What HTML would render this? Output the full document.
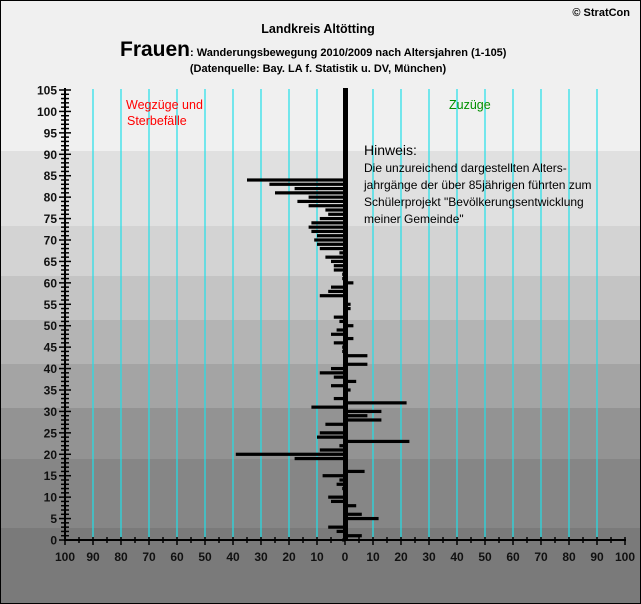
<!DOCTYPE html>
<html><head><meta charset="utf-8"><style>
html,body{margin:0;padding:0;background:#f0f0f0}
svg{display:block;font-family:"Liberation Sans",Arial,sans-serif}
</style></head><body>
<svg id="s" width="641" height="604" xmlns="http://www.w3.org/2000/svg">
<rect x="0" y="0" width="641" height="604" fill="#f0f0f0"/>
<rect x="0" y="151" width="641" height="75" fill="#e0e0e0"/>
<rect x="0" y="226" width="641" height="50" fill="#d3d3d3"/>
<rect x="0" y="276" width="641" height="44" fill="#c4c4c4"/>
<rect x="0" y="320" width="641" height="44" fill="#b4b4b4"/>
<rect x="0" y="364" width="641" height="44" fill="#a4a4a4"/>
<rect x="0" y="408" width="641" height="51" fill="#939393"/>
<rect x="0" y="459" width="641" height="69" fill="#868686"/>
<rect x="0" y="528" width="641" height="76" fill="#7a7a7a"/>
<g id="grid"></g>
<g id="bars"></g>
<rect x="343" y="88" width="5" height="453" fill="#000"/>
<g id="axes" stroke="#000" stroke-width="2"></g>
<g id="labels" font-size="12" font-weight="bold" fill="#111"></g>
<text x="630" y="16" font-size="11" font-weight="bold" text-anchor="end">© StratCon</text>
<text x="318" y="33" font-size="12.5" font-weight="bold" text-anchor="middle">Landkreis Altötting</text>
<text x="120" y="56" font-weight="bold"><tspan font-size="21">Frauen</tspan><tspan font-size="11">: Wanderungsbewegung 2010/2009 nach Altersjahren (1-105)</tspan></text>
<text x="318" y="72" font-size="11" font-weight="bold" text-anchor="middle">(Datenquelle: Bay. LA f. Statistik u. DV, München)</text>
<text x="126" y="109" font-size="12.5" fill="#ff0000">Wegzüge und</text>
<text x="127" y="125" font-size="12.5" fill="#ff0000">Sterbefälle</text>
<text x="449" y="109" font-size="12.5" fill="#009000">Zuzüge</text>
<text x="364" y="155" font-size="14" fill="#000">Hinweis:</text>
<g font-size="12" fill="#000">
<text x="364" y="172">Die unzureichend dargestellten Alters-</text>
<text x="364" y="189">jahrgänge der über 85jährigen führten zum</text>
<text x="364" y="206">Schülerprojekt "Bevölkerungsentwicklung</text>
<text x="364" y="223">meiner Gemeinde"</text>
</g>
<rect x="0.5" y="0.5" width="640" height="603" fill="none" stroke="#000"/>
</svg>
<script>
var NS="http://www.w3.org/2000/svg";
function el(p,t,a,txt){var e=document.createElementNS(NS,t);for(var k in a)e.setAttribute(k,a[k]);if(txt!=null)e.textContent=txt;document.getElementById(p).appendChild(e);}
var X0=345,SX=2.8,Y0=540,SY=450/105;
for(var k=1;k<20;k++){if(k==10)continue;var x=65+28*k;el("grid","line",{x1:x,y1:89,x2:x,y2:540,stroke:"#20e0e8","stroke-width":1.2});}
var d={0:-1,1:6,2:-3,3:-6,5:12,6:6,8:4,9:-5,10:-6,12:-1,13:-3,14:-2,15:-8,16:7,17:1,18:1,19:-18,20:-39,21:-9,22:-2,23:23,24:-10,25:-9,27:-7,28:13,29:8,30:13,31:-12,32:22,33:-4,34:1,35:2,36:-5,37:4,38:-4,39:-9,40:-5,41:8,43:8,44:-1,45:-1,46:-4,47:3,48:-5,49:-3,50:3,51:-2,52:-4,53:1,54:2,55:2,57:-9,58:-6,59:-5,60:3,61:-1,62:-1,63:-4,64:-4,65:-5,66:-7,67:-2,68:-9,69:-10,70:-11,71:-10,72:-12,73:-13,74:-12,75:-9,76:-6,77:-7,78:-13,79:-17,80:-13,81:-25,82:-18,83:-27,84:-35};
for(var a in d){var v=d[a],y=Y0-a*SY-1.6,w=Math.abs(v)*SX;var x=v<0?X0-w:X0;el("bars","rect",{x:x,y:y,width:w,height:3.2,fill:"#000"});}
el("axes","line",{x1:65,y1:88,x2:65,y2:541});
el("axes","line",{x1:64,y1:540,x2:626,y2:540});
for(var i=0;i<=105;i++){var y=Y0-i*SY;var l=(i%5==0)?6:4;el("axes","line",{x1:65-l,y1:y,x2:65+l,y2:y,"stroke-width":1.5});
 if(i%5==0)el("labels","text",{x:57,y:y+4.5,"text-anchor":"end"},i);}
for(var k=0;k<=40;k++){var x=65+14*k;var l=(k%2==0)?5:3;el("axes","line",{x1:x,y1:537,x2:x,y2:540+l,"stroke-width":1.5});
 if(k%2==0)el("labels","text",{x:x,y:561,"text-anchor":"middle"},Math.abs(100-k*5));}
</script>
</body></html>
